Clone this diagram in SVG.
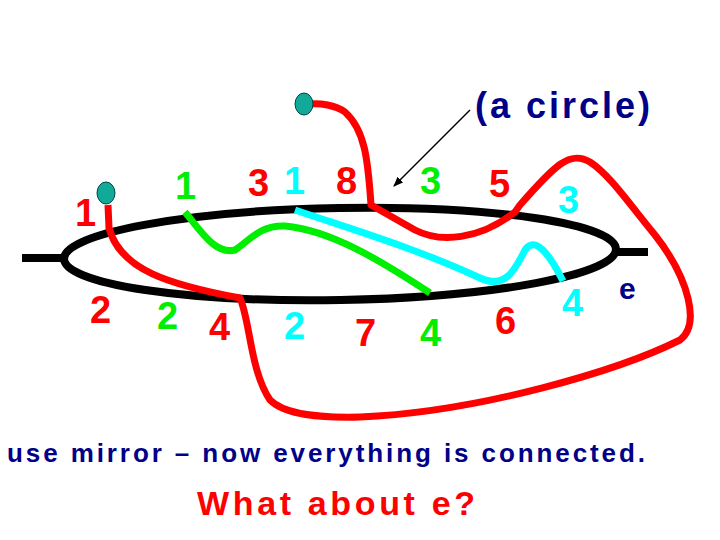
<svg xmlns="http://www.w3.org/2000/svg" width="720" height="540" viewBox="0 0 720 540">
<style>
.n{font-family:"Liberation Sans",Arial,sans-serif;font-weight:bold;font-size:38px}
.r{fill:#f00}.g{fill:#0e0}.c{fill:#0ff}.b{fill:#008}
.w{fill:none;stroke-width:7;stroke-linecap:butt;stroke-linejoin:round}
</style>
<defs><marker id="ah" markerWidth="10" markerHeight="8" refX="9" refY="4" orient="auto" markerUnits="userSpaceOnUse"><path d="M0,0L10,4L0,8z" fill="#000"/></marker></defs>
<rect width="720" height="540" fill="#fff"/>
<g id="circle">
<ellipse cx="340" cy="254" rx="276" ry="46" fill="none" stroke="#000" stroke-width="8" transform="rotate(-1 340 254)"/>
<line x1="22" y1="258" x2="66" y2="258" stroke="#000" stroke-width="8"/>
<line x1="614" y1="252" x2="648" y2="252" stroke="#000" stroke-width="8"/>
</g>
<g id="connectors">
<path class="w" stroke="#f00" d="M108,205 L109,228 C120,270 170,285 240,298 C250,320 250,370 270,400 C285,415 320,418 360,417 C480,412 620,370 680,340 C700,325 690,280 655,235 C630,205 610,175 590,162 C570,150 555,165 520,205 L515,212 C480,240 440,243 415,230 L371,205 C368,160 365,130 345,112 C335,105 320,103 310,104"/>
<path class="w" stroke="#0e0" d="M185,212 C200,230 215,255 235,250 C250,240 260,225 285,226 C330,230 380,260 430,293"/>
<path class="w" stroke="#0ff" d="M295,210 C360,232 420,250 480,278 C505,290 515,270 525,250 C535,235 550,255 563,281"/>
<line x1="470" y1="110" x2="394" y2="186" stroke="#000" stroke-width="1.5" marker-end="url(#ah)"/>
</g>
<g id="dots">
<ellipse cx="106" cy="193" rx="9" ry="11" fill="#1a9" stroke="#044"/>
<ellipse cx="304" cy="104" rx="9" ry="11" fill="#1a9" stroke="#044"/>
</g>
<g id="labels" class="n">
<text x="75" y="226" class="r">1</text>
<text x="175" y="199" class="g">1</text>
<text x="248" y="196" class="r">3</text>
<text x="284" y="194" class="c">1</text>
<text x="336" y="194" class="r">8</text>
<text x="420" y="194" class="g">3</text>
<text x="489" y="197" class="r">5</text>
<text x="558" y="213" class="c">3</text>
<text x="90" y="323" class="r">2</text>
<text x="157" y="329" class="g">2</text>
<text x="209" y="340" class="r">4</text>
<text x="284" y="339" class="c">2</text>
<text x="355" y="346" class="r">7</text>
<text x="420" y="346" class="g">4</text>
<text x="495" y="334" class="r">6</text>
<text x="562" y="316" class="c">4</text>
<text x="619" y="299" class="b" style="font-size:30px">e</text>
<text x="475" y="118" class="b" style="font-size:36px" textLength="175" lengthAdjust="spacing">(a circle)</text>
<text x="7" y="462" class="b" style="font-size:26px" textLength="638" lengthAdjust="spacing">use mirror – now everything is connected.</text>
<text x="197" y="515" class="r" style="font-size:34px" textLength="278" lengthAdjust="spacing">What about e?</text>
</g>
</svg>
